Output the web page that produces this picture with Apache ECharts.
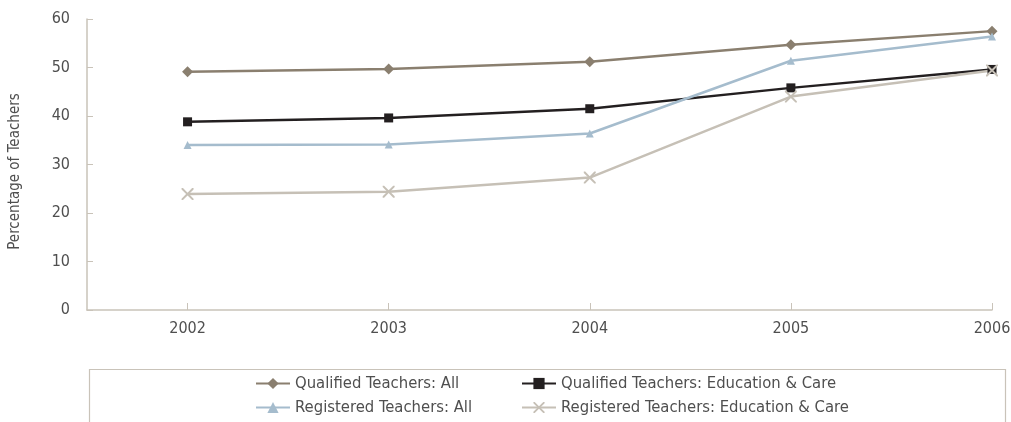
<!DOCTYPE html>
<html>
<head>
<meta charset="utf-8">
<script src="https://cdn.jsdelivr.net/npm/echarts@6/dist/echarts.min.js"></script>
<style>
  html, body { margin: 0; padding: 0; background: #fff; }
  #chart { width: 1011px; height: 422px; }
</style>
</head>
<body>
<div id="chart"></div>
<script>
// data
const years = [2002, 2003, 2004, 2005, 2006];
const qualifiedAll = [49.1, 49.7, 51.2, 54.7, 57.5];
const qualifiedEC = [38.8, 39.6, 41.5, 45.8, 49.6];
const registeredAll = [34.0, 34.1, 36.4, 51.4, 56.4];
const registeredEC = [23.9, 24.4, 27.3, 44.0, 49.4];
const yTicks = [0, 10, 20, 30, 40, 50, 60];

const crossPath = 'path://M0,0 L1.2,0 L5,3.8 L8.8,0 L10,0 L10,1.2 L6.2,5 L10,8.8 L10,10 L8.8,10 L5,6.2 L1.2,10 L0,10 L0,8.8 L3.8,5 L0,1.2 Z';
const font = "'Liberation Sans Narrow', 'DejaVu Sans Condensed', sans-serif";
const axisColor = '#c9c3b9';
const textColor = '#4f4f4f';

function pairs(vals) {
  return years.map((y, i) => [y, vals[i]]);
}

let myChart = echarts.init(document.getElementById('chart'));
myChart.setOption({
  animation: false,
  grid: { left: 87, right: 19, top: 19, bottom: 112, outerBoundsMode: 'none' },
  xAxis: {
    type: 'value',
    min: 2001.5,
    max: 2006,
    splitLine: { show: false },
    axisLine: { show: true, lineStyle: { color: axisColor, width: 1.5 } },
    axisTick: { show: true, inside: true, length: 7, customValues: years, lineStyle: { color: axisColor } },
    axisLabel: {
      customValues: years,
      color: textColor, fontFamily: font, fontSize: 16, margin: 11,
      formatter: v => String(v)
    }
  },
  yAxis: {
    type: 'value',
    min: 0,
    max: 60,
    interval: 10,
    name: 'Percentage of Teachers',
    nameLocation: 'middle',
    nameGap: 64,
    nameTextStyle: { color: textColor, fontFamily: font, fontSize: 15, padding: [0, 14, 0, 0] },
    splitLine: { show: false },
    axisLine: { show: true, lineStyle: { color: axisColor, width: 1.5 } },
    axisTick: { show: true, inside: true, length: 6, lineStyle: { color: axisColor } },
    axisLabel: { color: textColor, fontFamily: font, fontSize: 16, margin: 17 }
  },
  legend: [
    {
      data: ['Qualified Teachers: All', 'Registered Teachers: All'],
      orient: 'vertical', left: 250, top: 370, height: 80, itemGap: 7,
      itemWidth: 34, itemHeight: 14,
      textStyle: { color: textColor, fontFamily: font, fontSize: 16.5 }
    },
    {
      data: ['Qualified Teachers: Education & Care', 'Registered Teachers: Education & Care'],
      orient: 'vertical', left: 516, top: 370, height: 80, itemGap: 7,
      itemWidth: 34, itemHeight: 14,
      textStyle: { color: textColor, fontFamily: font, fontSize: 16.5 }
    }
  ],
  graphic: [{
    type: 'rect', left: 87, top: 367, silent: true,
    shape: { width: 916, height: 80 },
    style: { fill: 'none', stroke: axisColor, lineWidth: 1.2 }
  }],
  series: [
    {
      name: 'Qualified Teachers: All', type: 'line', data: pairs(qualifiedAll),
      symbol: 'diamond', symbolSize: 11,
      lineStyle: { color: '#8a7f6f', width: 2.5 }, itemStyle: { color: '#8a7f6f' }
    },
    {
      name: 'Qualified Teachers: Education & Care', type: 'line', data: pairs(qualifiedEC),
      symbol: 'rect', symbolSize: 9,
      lineStyle: { color: '#231f20', width: 2.5 }, itemStyle: { color: '#231f20' }
    },
    {
      name: 'Registered Teachers: All', type: 'line', data: pairs(registeredAll),
      symbol: 'triangle', symbolSize: 8,
      lineStyle: { color: '#a5bccd', width: 2.5 }, itemStyle: { color: '#a5bccd' }
    },
    {
      name: 'Registered Teachers: Education & Care', type: 'line', data: pairs(registeredEC),
      symbol: crossPath, symbolSize: 12,
      lineStyle: { color: '#c6c0b6', width: 2.5 }, itemStyle: { color: '#c6c0b6' }
    }
  ]
});
</script>
</body>
</html>
